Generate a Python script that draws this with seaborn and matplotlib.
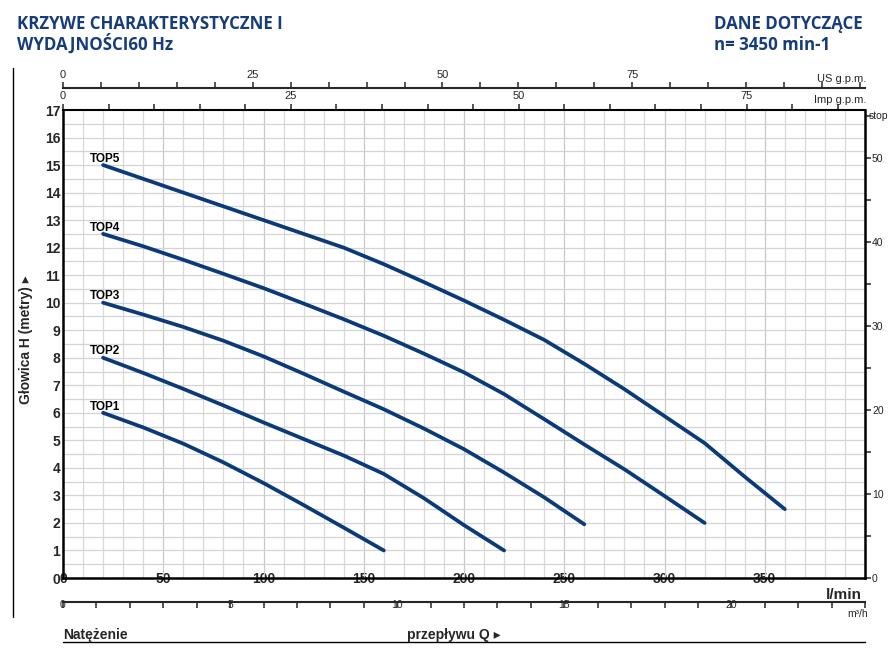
import numpy as np
import pandas as pd
import matplotlib
matplotlib.use("Agg")
import matplotlib.pyplot as plt
import seaborn as sns
from matplotlib.lines import Line2D

# Krzywe TOP1..TOP5, Q [l/min], H [m]
q_top1 = [20, 40, 60, 80, 100, 120, 140, 160]
h_top1 = [6.0, 5.47, 4.88, 4.2, 3.45, 2.65, 1.83, 1.0]

q_top2 = [20, 40, 60, 80, 100, 120, 140, 160, 180, 200, 220]
h_top2 = [8.0, 7.45, 6.87, 6.27, 5.65, 5.05, 4.45, 3.78, 2.9, 1.92, 1.0]

q_top3 = [20, 40, 60, 80, 100, 120, 140, 160, 180, 200, 220, 240, 260]
h_top3 = [10.0, 9.57, 9.12, 8.62, 8.05, 7.42, 6.77, 6.13, 5.43, 4.68, 3.83, 2.93, 1.95]

q_top4 = [20, 40, 60, 80, 100, 120, 140, 160, 180, 200, 220, 240, 260, 280, 300, 320]
h_top4 = [12.5, 12.05, 11.56, 11.05, 10.53, 9.97, 9.4, 8.8, 8.15, 7.47, 6.68, 5.77, 4.85, 3.95, 2.98, 2.0]

q_top5 = [20, 40, 60, 80, 100, 120, 140, 160, 180, 200, 220, 240, 260, 280, 300, 320, 340, 360]
h_top5 = [15.0, 14.5, 14.0, 13.5, 13.0, 12.5, 12.0, 11.4, 10.75, 10.08, 9.38, 8.65, 7.78, 6.86, 5.88, 4.9, 3.68, 2.5]

nazwy = ["TOP1", "TOP2", "TOP3", "TOP4", "TOP5"]
q_all = [q_top1, q_top2, q_top3, q_top4, q_top5]
h_all = [h_top1, h_top2, h_top3, h_top4, h_top5]

x_ticks = [0, 50, 100, 150, 200, 250, 300, 350]
y_ticks = list(range(0, 18))

df = pd.concat([pd.DataFrame({"Q": q, "H": h, "pompa": n})
                for q, h, n in zip(q_all, h_all, nazwy)], ignore_index=True)

sns.set_style("white")
plt.rcParams["font.family"] = ["Liberation Sans", "DejaVu Sans"]

W, H = 890, 662
fig = plt.figure(figsize=(8.9, 6.62), dpi=100)
ax = fig.add_axes([63 / W, (H - 578) / H, 802 / W, 468 / H])

granat = "#0a3a78"
sns.lineplot(data=df, x="Q", y="H", hue="pompa", palette={n: granat for n in nazwy},
             estimator=None, legend=False, linewidth=2.7, ax=ax, zorder=3)

for n, q, h in zip(nazwy, q_all, h_all):
    ax.text(q[0] - 6.5, h[0] + 0.12, n, fontsize=8.5, fontweight="bold",
            ha="left", va="baseline", color="black")

ax.set_xlim(0, 400)
ax.set_ylim(0, 17)

# siatka
for xv in np.arange(10, 400, 10):
    ax.axvline(xv, color="#c8c8c8" if xv % 50 == 0 else "#d9d9d9", lw=0.9, zorder=1)
for yv in np.arange(0.5, 17, 0.5):
    ax.axhline(yv, color="#d4d4d4", lw=0.9, zorder=1)

ax.set_xticks(x_ticks)
ax.set_yticks(y_ticks)
ax.tick_params(axis="x", length=0, pad=-4, labelsize=10)
ax.tick_params(axis="y", length=0, pad=2, labelsize=10)
for lab in ax.get_xticklabels() + ax.get_yticklabels():
    lab.set_fontweight("bold")
ax.set_xlabel("")
ax.set_ylabel("")
for s in ax.spines.values():
    s.set_color("black")
ax.spines["left"].set_linewidth(1.8)
ax.spines["bottom"].set_linewidth(1.8)
ax.spines["right"].set_linewidth(1.8)
ax.spines["top"].set_linewidth(1.5)

# os Imp g.p.m.
imp = ax.secondary_xaxis("top", functions=(lambda q: q / 4.546, lambda g: g * 4.546))
imp.set_xticks([0, 25, 50, 75])
imp.set_xticks(np.arange(0, 90, 5), minor=True)
imp.tick_params(which="both", direction="out", length=4.5, width=1.1, pad=2, labelsize=8)
imp.spines["top"].set_visible(False)

# os US g.p.m.
us = ax.secondary_xaxis(1.047, functions=(lambda q: q / 3.785, lambda g: g * 3.785))
us.set_xticks([0, 25, 50, 75])
us.set_xticks(np.arange(0, 110, 5), minor=True)
us.tick_params(which="both", direction="out", length=4, width=1.1, pad=1.5, labelsize=8)
us.spines["top"].set_linewidth(1.5)

# os m3/h
m3 = ax.secondary_xaxis(-0.051, functions=(lambda q: q * 0.06, lambda m: m / 0.06))
m3.set_xticks([0, 5, 10, 15, 20])
m3.set_xticks(np.arange(0, 25, 1), minor=True)
m3.tick_params(which="both", direction="out", length=4, width=1.1, pad=-5.5, labelsize=7.5)
m3.spines["bottom"].set_linewidth(1.5)

# os stop
ft = ax.secondary_yaxis("right", functions=(lambda m: m * 3.2808, lambda f: f / 3.2808))
ft.set_yticks([0, 10, 20, 30, 40, 50])
ft.set_yticks(np.arange(0, 56, 5), minor=True)
ft.tick_params(which="both", direction="out", length=4, width=1.1, pad=1, labelsize=7.5)
ft.spines["right"].set_visible(False)

def px(x, y, s, **kw):
    fig.text(x / W, 1 - y / H, s, **kw)

niebieski = "#163c7c"
tytul = dict(fontsize=12.2, fontweight="bold", color=niebieski, family=["Open Sans", "DejaVu Sans"],
             va="baseline", ha="left")
px(17, 29, "KRZYWE CHARAKTERYSTYCZNE I", **tytul)
px(17, 50, "WYDAJNOŚCI60 Hz", **tytul)
px(714, 29, "DANE DOTYCZĄCE", **tytul)
px(714, 50, "n= 3450 min-1", **tytul)

px(866, 82, "US g.p.m.", fontsize=8, ha="right", va="baseline")
px(866, 103, "Imp g.p.m.", fontsize=8, ha="right", va="baseline")
px(869, 119, "stop", fontsize=7.5, ha="left", va="baseline")
px(862, 599, "l/min", fontsize=11, fontweight="bold", ha="right", va="baseline")
px(868, 617, "m³/h", fontsize=7.5, ha="right", va="baseline")

px(26, 340, "Głowica H (metry) ▸", fontsize=10, fontweight="bold", rotation=90,
   ha="center", va="center")
px(63, 639, "Natężenie", fontsize=10, fontweight="bold", ha="left", va="baseline")
px(407, 639, "przepływu Q ▸", fontsize=10, fontweight="bold", ha="left", va="baseline")

fig.add_artist(Line2D([63 / W, 865 / W], [1 - 642 / H, 1 - 642 / H], color="black", lw=1.0))
fig.add_artist(Line2D([13 / W, 13 / W], [1 - 68 / H, 1 - 617 / H], color="black", lw=1.0))

fig.savefig("out.png", dpi=100)
